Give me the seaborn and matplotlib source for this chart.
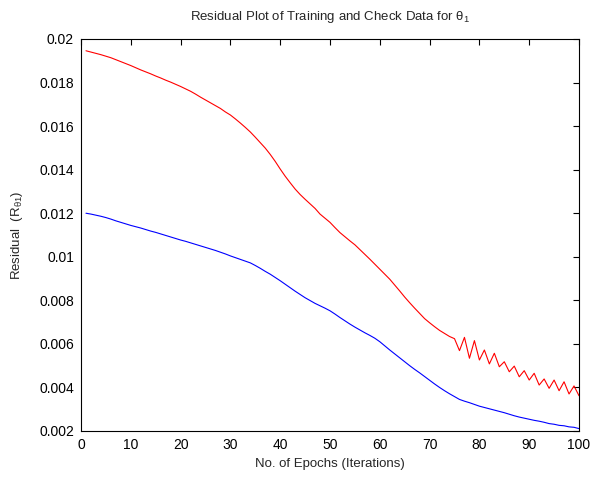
import numpy as np
import pandas as pd
import matplotlib
matplotlib.use("Agg")
import matplotlib.pyplot as plt
from matplotlib.ticker import FuncFormatter
import seaborn as sns

# Epoch index and residuals for the check (red) and training (blue) data
epochs = list(range(1, 101))

check_residual = [
    0.01946, 0.01940, 0.01934, 0.01928, 0.01921, 0.01914, 0.01905, 0.01896, 0.01887, 0.01878,
    0.01868, 0.01858, 0.01849, 0.01840, 0.01830, 0.01821, 0.01811, 0.01802, 0.01792, 0.01782,
    0.01771, 0.01760, 0.01747, 0.01733, 0.01720, 0.01707, 0.01694, 0.01681, 0.01665, 0.01651,
    0.01633, 0.01614, 0.01594, 0.01573, 0.01549, 0.01524, 0.01499, 0.01470, 0.01438, 0.01403,
    0.01370, 0.01340, 0.01311, 0.01286, 0.01264, 0.01243, 0.01222, 0.01196, 0.01177, 0.01158,
    0.01134, 0.01111, 0.01092, 0.01073, 0.01055, 0.01033, 0.01011, 0.00989, 0.00966, 0.00943,
    0.00920, 0.00897, 0.00870, 0.00843, 0.00815, 0.00789, 0.00764, 0.00740, 0.00716, 0.00697,
    0.00679, 0.00662, 0.00648, 0.00634, 0.00624, 0.00569, 0.00630, 0.00534, 0.00615, 0.00526,
    0.00572, 0.00508, 0.00557, 0.00495, 0.00518, 0.00472, 0.00498, 0.00449, 0.00477, 0.00434,
    0.00465, 0.00411, 0.00439, 0.00396, 0.00434, 0.00385, 0.00426, 0.00370, 0.00407, 0.00362,
]

training_residual = [
    0.01200, 0.01196, 0.01191, 0.01186, 0.01180, 0.01173, 0.01165, 0.01158, 0.01151, 0.01144,
    0.01138, 0.01132, 0.01125, 0.01118, 0.01112, 0.01105, 0.01098, 0.01091, 0.01084, 0.01077,
    0.01071, 0.01064, 0.01057, 0.01050, 0.01043, 0.01036, 0.01029, 0.01021, 0.01013, 0.01004,
    0.00996, 0.00988, 0.00980, 0.00972, 0.00960, 0.00947, 0.00933, 0.00920, 0.00905, 0.00890,
    0.00874, 0.00858, 0.00842, 0.00827, 0.00812, 0.00799, 0.00786, 0.00775, 0.00764, 0.00752,
    0.00737, 0.00721, 0.00706, 0.00691, 0.00677, 0.00664, 0.00651, 0.00639, 0.00626, 0.00610,
    0.00591, 0.00572, 0.00554, 0.00536, 0.00518, 0.00500, 0.00483, 0.00467, 0.00450, 0.00433,
    0.00416, 0.00400, 0.00385, 0.00371, 0.00358, 0.00345, 0.00337, 0.00330, 0.00322, 0.00314,
    0.00308, 0.00302, 0.00296, 0.00290, 0.00284, 0.00277, 0.00270, 0.00264, 0.00259, 0.00254,
    0.00249, 0.00245, 0.00240, 0.00234, 0.00231, 0.00226, 0.00224, 0.00219, 0.00217, 0.00211,
]

x_ticks = [0, 10, 20, 30, 40, 50, 60, 70, 80, 90, 100]
y_ticks = [0.002, 0.004, 0.006, 0.008, 0.01, 0.012, 0.014, 0.016, 0.018, 0.02]

sns.set_style("white")
plt.rcParams["font.family"] = ["Liberation Sans", "DejaVu Sans"]
plt.rcParams["mathtext.fontset"] = "custom"
plt.rcParams["mathtext.rm"] = "Liberation Sans"
plt.rcParams["mathtext.it"] = "Liberation Sans"
plt.rcParams["mathtext.default"] = "regular"

df = pd.DataFrame({
    "epoch": epochs + epochs,
    "residual": check_residual + training_residual,
    "series": ["check"] * len(epochs) + ["training"] * len(epochs),
})

fig = plt.figure(figsize=(5.93, 4.79), dpi=100)
ax = fig.add_axes([81 / 593, 1 - 431 / 479, (579 - 81) / 593, (431 - 39) / 479])

sns.lineplot(data=df, x="epoch", y="residual", hue="series",
             palette={"check": "#ff0000", "training": "#0000ff"},
             linewidth=0.8, legend=False, ax=ax)

ax.set_xlim(0, 100)
ax.set_ylim(0.002, 0.02)
ax.set_xticks(x_ticks)
ax.set_yticks(y_ticks)
ax.yaxis.set_major_formatter(FuncFormatter(lambda v, p: f"{v:g}"))

for side in ["top", "right", "bottom", "left"]:
    ax.spines[side].set_visible(True)
    ax.spines[side].set_color("black")
    ax.spines[side].set_linewidth(0.8)

ax.tick_params(direction="in", top=True, right=True, length=4, width=0.8,
               labelsize=10, colors="black", pad=5)

ax.set_title(r"Residual Plot of Training and Check Data for $\theta_1$",
             fontsize=9.5, pad=14)
ax.set_xlabel("No. of Epochs (Iterations)", fontsize=9.5, labelpad=4)
ax.set_ylabel(r"Residual  (R$_{\theta 1}$)", fontsize=9.5, labelpad=10)

fig.savefig("out.png", dpi=100, facecolor="white")
